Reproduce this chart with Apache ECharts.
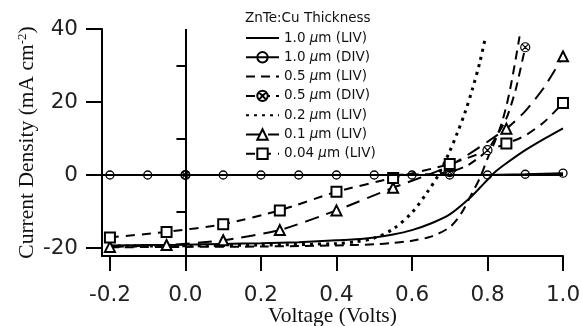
<!DOCTYPE html>
<html><head><meta charset="utf-8">
<script src="https://cdn.jsdelivr.net/npm/echarts@6/dist/echarts.min.js"></script>
<style>html,body{margin:0;padding:0;background:#fff}#c{width:582px;height:326px}</style>
</head><body><div id="c"></div>
<script>
// Series names (legend order)
const names = ['1.0 µm (LIV)','1.0 µm (DIV)','0.5 µm (LIV)','0.5 µm (DIV)','0.2 µm (LIV)','0.1 µm (LIV)','0.04 µm (LIV)'];

// 1.0 µm (LIV)
const v_10_liv = [-0.2,-0.1,0,0.1,0.2,0.3,0.4,0.45,0.5,0.55,0.6,0.65,0.7,0.75,0.78,0.8,0.82,0.85,0.9,0.95,1.0];
const j_10_liv = [-19.3,-19.2,-19.1,-18.9,-18.7,-18.4,-17.9,-17.6,-17.1,-16.3,-15.1,-13.3,-10.8,-6.6,-3.5,-1.3,0.8,3.2,6.8,9.9,12.8];
// 1.0 µm (DIV)
const v_10_div = [-0.2,-0.1,0,0.1,0.2,0.3,0.4,0.5,0.6,0.7,0.8,0.9,1.0];
const j_10_div = [0,0,0,0,0,0,0,0,0,0,0,0.2,0.5];
const m_10_div = [-0.2,-0.1,0,0.1,0.2,0.3,0.4,0.5,0.6,0.7,0.8,0.9,1.0];
// 0.5 µm (LIV)
const v_05_liv = [-0.2,0,0.2,0.4,0.5,0.55,0.6,0.65,0.7,0.73,0.76,0.78,0.8,0.82,0.84,0.86,0.885];
const j_05_liv = [-19.8,-19.7,-19.6,-19.3,-19.0,-18.6,-18.0,-16.9,-14.3,-10.6,-4.8,-0.8,4.5,9.3,15,23.5,38];
// 0.5 µm (DIV)
const v_05_div = [-0.2,-0.1,0,0.1,0.2,0.3,0.4,0.5,0.6,0.65,0.7,0.75,0.8,0.85,0.875,0.9];
const j_05_div = [0,0,0,0,0,0,0,0,0.1,0.3,0.8,2.8,6.8,15.5,23.5,35];
const m_05_div = [0,0.7,0.8,0.9];
// 0.2 µm (LIV)
const v_02_liv = [-0.2,0,0.2,0.4,0.45,0.5,0.55,0.6,0.64,0.67,0.7,0.72,0.74,0.76,0.78,0.795];
const j_02_liv = [-19.5,-19.4,-19.2,-18.8,-18.3,-17.3,-14.8,-10.3,-4.8,0,6.5,11.5,17,23.5,31,38];
// 0.1 µm (LIV)
const v_01_liv = [-0.2,-0.05,0.1,0.25,0.4,0.55,0.7,0.85,0.9,0.95,1.0];
const j_01_liv = [-19.7,-19.2,-17.9,-15.1,-9.7,-3.5,2.5,12.7,17.5,24,32.5];
const m_01_liv = [-0.2,-0.05,0.1,0.25,0.4,0.55,0.7,0.85,1.0];
// 0.04 µm (LIV)
const v_004_liv = [-0.2,-0.05,0.1,0.25,0.4,0.55,0.7,0.85,0.9,0.95,1.0];
const j_004_liv = [-17.1,-15.6,-13.5,-9.7,-4.6,-0.8,3,8.6,10.8,14.5,19.7];
const m_004_liv = [-0.2,-0.05,0.1,0.25,0.4,0.55,0.7,0.85,1.0];

// Axis ticks
const xTicks = [-0.2,0,0.2,0.4,0.6,0.8,1.0];
const yTicks = [-20,0,20,40];
const yMinorTicks = [-10,10,30];

function pts(v,j,marks){
  return v.map((x,i)=>{
    const item={value:[x,j[i]]};
    if(marks && !marks.some(m=>Math.abs(m-x)<1e-9)) item.symbol='none';
    return item;
  });
}
const otimes='path://M10,0A10,10,0,1,1,10,20A10,10,0,1,1,10,0ZM2.9,2.9L17.1,17.1M17.1,2.9L2.9,17.1';
const black='#000';
const clear='rgba(0,0,0,0)';
const base={type:'line',showAllSymbol:true,animation:false,z:3};
const noMark={symbol:'circle',showSymbol:false,itemStyle:{color:clear,borderWidth:0,opacity:0}};

const chart=echarts.init(document.getElementById('c'),null,{renderer:'canvas'});
chart.setOption({
  backgroundColor:'#fff',
  animation:false,
  title:{text:'ZnTe:Cu Thickness',left:245,top:11,padding:0,textStyle:{fontFamily:'DejaVu Sans',fontSize:13.5,fontWeight:'normal',color:'#111'}},
  legend:{
    orient:'vertical',left:245,top:31,padding:0,itemWidth:33,itemHeight:13,itemGap:5.3,
    data:names,
    formatter:n=>n.replace('µ','{i|µ}'),
    textStyle:{fontFamily:'DejaVu Sans',fontSize:13.5,color:'#111',rich:{i:{fontStyle:'italic',fontFamily:'DejaVu Sans',fontSize:13.5,color:'#111'}}}
  },
  grid:{left:102,right:19,top:29,bottom:70,containLabel:false,outerBoundsMode:'none'},
  xAxis:{
    type:'value',min:-0.221,max:1.0,
    name:'Voltage (Volts)',nameLocation:'middle',nameGap:49,nameMoveOverlap:false,
    nameTextStyle:{fontFamily:'Liberation Serif',fontSize:21.5,color:'#111'},
    axisLine:{show:true,onZero:false,lineStyle:{color:black,width:2}},
    axisTick:{show:true,customValues:xTicks,length:15,lineStyle:{color:black,width:2}},
    axisLabel:{customValues:xTicks,margin:28,formatter:v=>v.toFixed(1),fontFamily:'DejaVu Sans',fontSize:21.5,color:'#222'},
    splitLine:{show:false}
  },
  yAxis:[{
    type:'value',min:-22.2,max:40,
    name:'Current Density (mA cm{s|-2})',nameLocation:'middle',nameGap:64,nameMoveOverlap:false,
    nameTextStyle:{fontFamily:'Liberation Serif',fontSize:21.5,color:'#111',rich:{s:{fontFamily:'Liberation Serif',fontSize:13,color:'#111',verticalAlign:'top',padding:[0,0,9,0]}}},
    axisLine:{show:true,onZero:false,lineStyle:{color:black,width:2}},
    axisTick:{show:true,customValues:yTicks,length:16,lineStyle:{color:black,width:2}},
    axisLabel:{customValues:yTicks,margin:24,fontFamily:'DejaVu Sans',fontSize:21.5,color:'#222'},
    splitLine:{show:false}
  },{
    type:'value',min:-22.2,max:40,position:'left',
    axisLine:{show:false},
    axisTick:{show:true,customValues:yMinorTicks,length:9,lineStyle:{color:black,width:2}},
    axisLabel:{show:false},splitLine:{show:false}
  }],
  series:[
    Object.assign({},base,noMark,{name:names[0],data:pts(v_10_liv,j_10_liv),smooth:0.3,
      lineStyle:{color:black,width:2,type:'solid'}}),
    Object.assign({},base,{name:names[1],data:pts(v_10_div,j_10_div,m_10_div),symbol:'circle',symbolSize:8,z:4,
      lineStyle:{color:black,width:2,type:'solid'},itemStyle:{color:clear,borderColor:black,borderWidth:1.3},
      markLine:{silent:true,symbol:'none',label:{show:false},lineStyle:{color:black,width:2,type:'solid'},
        data:[{xAxis:0},{yAxis:0}]}}),
    Object.assign({},base,noMark,{name:names[2],data:pts(v_05_liv,j_05_liv),smooth:0.3,
      lineStyle:{color:black,width:2,type:[9,6]}}),
    Object.assign({},base,{name:names[3],data:pts(v_05_div,j_05_div,m_05_div),symbol:otimes,symbolSize:9,smooth:0.2,
      lineStyle:{color:black,width:2,type:[9,6]},itemStyle:{color:'#fff',borderColor:black,borderWidth:1.2}}),
    Object.assign({},base,noMark,{name:names[4],data:pts(v_02_liv,j_02_liv),smooth:0.3,
      lineStyle:{color:black,width:3,type:[3,5]}}),
    Object.assign({},base,{name:names[5],data:pts(v_01_liv,j_01_liv,m_01_liv),symbol:'emptyTriangle',symbolSize:10,smooth:0.2,
      lineStyle:{color:black,width:2,type:[14,8]},itemStyle:{color:black,borderWidth:1.2}}),
    Object.assign({},base,{name:names[6],data:pts(v_004_liv,j_004_liv,m_004_liv),symbol:'emptyRect',symbolSize:10,smooth:0.2,
      lineStyle:{color:black,width:2,type:[9,7]},itemStyle:{color:black,borderWidth:1.2}})
  ]
});
</script></body></html>
